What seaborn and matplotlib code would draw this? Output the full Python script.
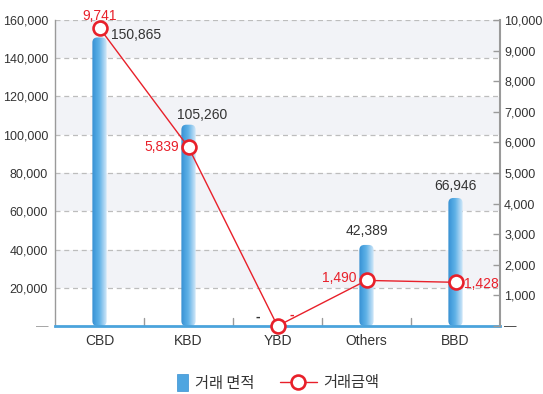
import numpy as np
import pandas as pd
import matplotlib
matplotlib.use("Agg")
import matplotlib.pyplot as plt
from matplotlib.patches import FancyBboxPatch, Patch
from matplotlib.lines import Line2D
from matplotlib.colors import LinearSegmentedColormap
import seaborn as sns

# Data
categories = ["CBD", "KBD", "YBD", "Others", "BBD"]
area = [150865, 105260, 0, 42389, 66946]          # 거래 면적
amount = [9741, 5839, 0, 1490, 1428]              # 거래금액
area_labels = ["150,865", "105,260", "-", "42,389", "66,946"]
amount_labels = ["9,741", "5,839", "-", "1,490", "1,428"]
left_ticks = [0, 20000, 40000, 60000, 80000, 100000, 120000, 140000, 160000]
right_ticks = [0, 1000, 2000, 3000, 4000, 5000, 6000, 7000, 8000, 9000, 10000]

sns.set_theme(style="white")
plt.rcParams["font.family"] = ["Liberation Sans", "Noto Sans CJK KR", "DejaVu Sans"]

RED = "#e8202a"
TXT = "#333333"
GRID = "#bdbdbd"
BAND = "#f2f3f7"

df = pd.DataFrame({"category": categories, "area": area, "amount": amount,
                   "pos": np.arange(len(categories))})

fig = plt.figure(figsize=(5.43, 3.94), dpi=100)
ax = fig.add_axes([55 / 543, 1 - 326 / 394, 445 / 543, 306 / 394])

sns.barplot(data=df, x="category", y="area", order=categories, color="#4a9fd8",
            width=0.16, ax=ax, zorder=3)
bars = list(ax.patches)

ax.set_xlim(-0.5, len(categories) - 0.5)
ax.set_ylim(0, 160000)

# alternating background bands and dashed grid
for i in range(0, len(left_ticks) - 1):
    if i % 2 == 1:
        ax.axhspan(left_ticks[i], left_ticks[i + 1], color=BAND, zorder=0, lw=0)
for t in left_ticks[1:]:
    ax.axhline(t, color=GRID, lw=0.9, ls=(0, (4, 3)), zorder=1)

# gradient-filled rounded bars
cmap = LinearSegmentedColormap.from_list(
    "barblue", ["#3890d2", "#4aa2df", "#62b3e7", "#9ccdf0", "#d2e9f9"])
px_x = 1 / 89.0                 # data units per pixel in x
px_y = 160000 / 306.0           # data units per pixel in y
grad = np.linspace(0, 1, 64).reshape(1, -1)
for p in bars:
    p.set_visible(False)
    if p.get_height() <= 0:
        continue
    x0, w, h = p.get_x(), p.get_width(), p.get_height()
    box = FancyBboxPatch((x0, 0), w, h,
                         boxstyle=f"round,pad=0,rounding_size={5 * px_x}",
                         mutation_aspect=px_y / px_x,
                         facecolor="none", edgecolor="none", zorder=3)
    ax.add_patch(box)
    im = ax.imshow(grad, cmap=cmap, aspect="auto", extent=(x0, x0 + w, 0, h),
                   zorder=3, interpolation="bicubic")
    im.set_clip_path(box)
ax.set_xlim(-0.5, len(categories) - 0.5)
ax.set_ylim(0, 160000)

# spines and ticks, left axis
for s in ["top", "right"]:
    ax.spines[s].set_visible(False)
ax.spines["left"].set_color("#9a9a9a")
ax.spines["left"].set_linewidth(1.0)
ax.spines["bottom"].set_color("#4ba3dc")
ax.spines["bottom"].set_linewidth(2.0)
ax.spines["bottom"].set_zorder(6)
ax.set_yticks(left_ticks)
ax.set_yticklabels(["—"] + [f"{t:,}" for t in left_ticks[1:]])
ax.tick_params(axis="y", length=0, pad=5, labelsize=9, labelcolor=TXT)
ax.get_yticklabels()[0].set_color("#999999")
ax.tick_params(axis="x", length=0, pad=6, labelsize=10, labelcolor=TXT)
ax.set_xlabel("")
ax.set_ylabel("")
# category separators rising from the base line
for b in np.arange(0.5, len(categories) - 0.5, 1.0):
    ax.plot([b, b], [0, 8 * px_y], color="#9a9a9a", lw=1, zorder=4)

# right axis with transaction amounts
ax2 = ax.twinx()
sns.lineplot(data=df, x="pos", y="amount", ax=ax2, color=RED, lw=1.0,
             marker="o", markersize=10, markerfacecolor="white",
             markeredgecolor=RED, markeredgewidth=1.9, zorder=5, clip_on=False)
ax2.set_ylim(0, 10000)
ax2.set_xlim(-0.5, len(categories) - 0.5)
ax2.set_yticks(right_ticks)
ax2.set_yticklabels(["—"] + [f"{t:,}" for t in right_ticks[1:]])
ax2.get_yticklabels()[0].set_color("#999999")
ax2.tick_params(axis="y", direction="in", length=5, width=1, color="#9a9a9a",
                pad=3, labelsize=9, labelcolor=TXT, right=True, left=False)
ax2.set_ylabel("")
ax2.set_xlabel("")
for s in ["top", "left", "bottom"]:
    ax2.spines[s].set_visible(False)
ax2.spines["right"].set_color("#9a9a9a")
ax2.spines["right"].set_linewidth(1.5)

# value labels
fs = 10
# bar values (black)
bar_off = [(8, -5, "left", "center"), (10, 4, "center", "baseline"),
           (-14, 2, "center", "bottom"), (0, 7, "center", "baseline"),
           (0, 6, "center", "baseline")]
for i, (dx, dy, ha, va) in enumerate(bar_off):
    if i == 0:
        xy, trans = (0, amount[0]), ax2
    else:
        xy, trans = (i, area[i]), ax
    trans.annotate(area_labels[i], xy=xy, xytext=(dx, dy), textcoords="offset points",
                   ha=ha, va=va, fontsize=fs, color=TXT, zorder=7,
                   fontweight="bold" if i == 2 else "normal")

# amount values (red)
amt_off = [(0, 6, "center", "baseline"), (-7, 0, "right", "center"),
           (10, 3, "center", "bottom"), (-7, 2, "right", "center"),
           (6, -1, "left", "center")]
for i, (dx, dy, ha, va) in enumerate(amt_off):
    ax2.annotate(amount_labels[i], xy=(i, amount[i]), xytext=(dx, dy),
                 textcoords="offset points", ha=ha, va=va, fontsize=fs,
                 color=RED, zorder=7,
                 fontweight="bold" if i == 2 else "normal")

# legend: one entry for the bars, one for the line
kfont = {"family": ["Noto Sans CJK KR", "DejaVu Sans"], "size": 11}
leg1 = fig.legend([Patch(facecolor="#4fa5e0", edgecolor="#3890d2", lw=0.5)],
                  ["거래 면적"], loc="center left",
                  bbox_to_anchor=(177 / 543, 1 - 383 / 394), frameon=False,
                  prop=kfont, handlelength=0.75, handleheight=1.3,
                  handletextpad=0.45, borderaxespad=0, borderpad=0)
leg2 = fig.legend([Line2D([0], [0], color=RED, lw=1.0, marker="o", markersize=10,
                          markerfacecolor="white", markeredgecolor=RED,
                          markeredgewidth=1.9)],
                  ["거래금액"], loc="center left",
                  bbox_to_anchor=(280 / 543, 1 - 383 / 394), frameon=False,
                  prop=kfont, handlelength=2.4, handletextpad=0.45,
                  borderaxespad=0, borderpad=0)
for lg in (leg1, leg2):
    for t in lg.get_texts():
        t.set_color(TXT)

fig.savefig("out.png", dpi=100)
